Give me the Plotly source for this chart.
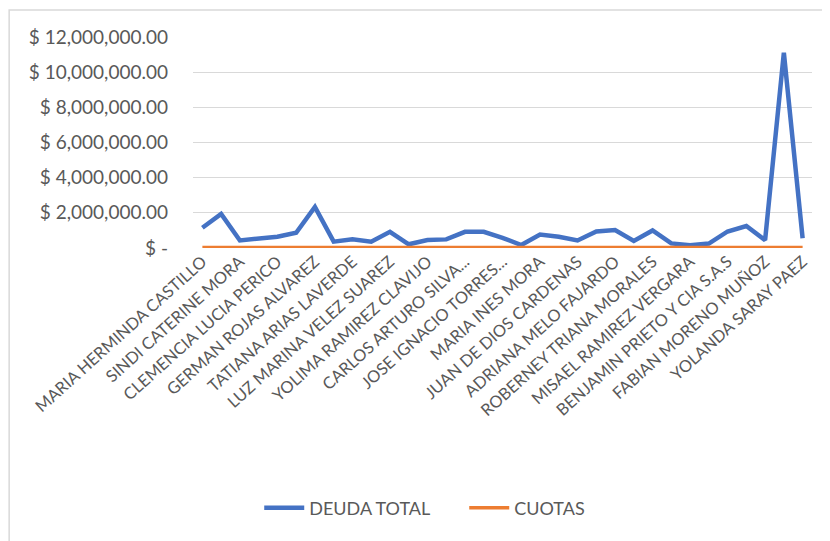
import plotly.graph_objects as go

# every other category is labelled on the axis; only those names are legible
labels = [
    "MARIA HERMINDA CASTILLO", "SINDI CATERINE MORA", "CLEMENCIA LUCIA PERICO",
    "GERMAN ROJAS ALVAREZ", "TATIANA ARIAS LAVERDE", "LUZ MARINA VELEZ SUAREZ",
    "YOLIMA RAMIREZ CLAVIJO", "CARLOS ARTURO SILVA...", "JOSE IGNACIO TORRES...",
    "MARIA INES MORA", "JUAN DE DIOS CARDENAS", "ADRIANA MELO FAJARDO",
    "ROBERNEY TRIANA MORALES", "MISAEL RAMIREZ VERGARA", "BENJAMIN PRIETO Y CIA S.A.S",
    "FABIAN MORENO MUÑOZ", "YOLANDA SARAY PAEZ",
]

deuda_total = [
    1150000, 1940000, 430000, 530000, 640000, 870000, 2340000, 360000, 490000,
    360000, 920000, 210000, 450000, 490000, 920000, 920000, 580000, 170000,
    770000, 640000, 430000, 940000, 1020000, 400000, 1000000, 260000, 150000,
    250000, 940000, 1250000, 450000, 11110000, 550000,
]

cuotas = [
    30000, 30000, 10000, 20000, 20000, 10000, 30000, 20000, 10000,
    20000, 30000, 20000, 20000, 20000, 30000, 30000, 30000, 20000,
    30000, 30000, 30000, 30000, 20000, 10000, 20000, 10000, 20000,
    20000, 30000, 30000, 30000, 30000, 30000,
]

y_ticks = [0, 2000000, 4000000, 6000000, 8000000, 10000000, 12000000]
y_tick_text = ["$ -", "$ 2,000,000.00", "$ 4,000,000.00", "$ 6,000,000.00",
               "$ 8,000,000.00", "$ 10,000,000.00", "$ 12,000,000.00"]

x = list(range(len(deuda_total)))

fig = go.Figure()

fig.add_trace(go.Scatter(
    x=x, y=deuda_total, mode="lines", name="DEUDA TOTAL",
    line=dict(color="#4472C4", width=4.5),
))
fig.add_trace(go.Scatter(
    x=x, y=cuotas, mode="lines", name="CUOTAS",
    line=dict(color="#ED7D31", width=3.5),
))

# the page body keeps its 8px margin, so the figure is 8px smaller each way
fig.update_layout(
    width=822, height=533,
    margin=dict(l=185, r=18, t=29, b=293),
    paper_bgcolor="white", plot_bgcolor="white",
    font=dict(family="Lato, 'Open Sans', sans-serif", color="#595959"),
    showlegend=True,
    legend=dict(
        orientation="h", x=0.107, xanchor="left",
        yref="container", y=0.062, yanchor="middle",
        font=dict(size=18, color="#595959"),
        itemwidth=40, tracegroupgap=0,
        entrywidth=150, entrywidthmode="pixels",
    ),
    xaxis=dict(
        range=[-0.5, len(x) - 0.5],
        tickvals=x[::2], ticktext=labels,
        tickangle=-42, tickfont=dict(size=16.5, color="#595959"),
        showgrid=False, zeroline=False, showline=False, ticks="",
        automargin=False,
    ),
    yaxis=dict(
        range=[0, 12000000],
        tickvals=y_ticks, ticktext=y_tick_text,
        tickfont=dict(size=19, color="#595959"),
        showgrid=True, gridcolor="#D9D9D9", gridwidth=1,
        zeroline=False, showline=False, ticks="", ticklabelstandoff=24,
        automargin=False,
    ),
    shapes=[dict(
        type="rect", xref="paper", yref="paper",
        x0=-0.297, x1=1.1, y0=-1.5, y1=1.128,
        line=dict(color="#D9D9D9", width=1.5),
    )],
)

fig.write_html("out.html")
